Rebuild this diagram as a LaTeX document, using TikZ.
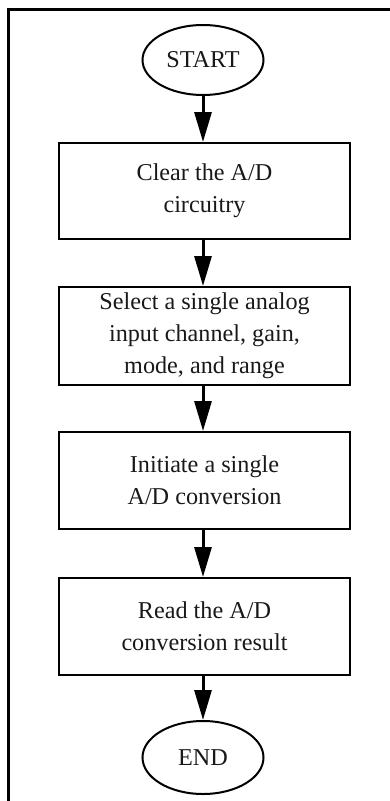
\documentclass[tikz,border=0pt]{standalone}
\usepackage{fontspec}
\setmainfont{Liberation Serif}
\usetikzlibrary{arrows.meta,shapes.geometric}
\begin{document}
\begin{tikzpicture}[x=1pt,y=-1pt,
  stepbox/.style={draw=black,line width=2pt,rectangle,minimum width=291pt,inner sep=0pt,align=center,text=black!90,font=\fontsize{24.2}{32}\selectfont},
  term/.style={draw=black,line width=2pt,ellipse,inner sep=0pt,text=black!90,font=\fontsize{24.2}{32}\selectfont},
  flow/.style={line width=3pt,-{Triangle[length=30pt,width=17pt]}}
]
\useasboundingbox (0,0) rectangle (390,801);
\draw[line width=3pt] (8.5,801) -- (8.5,9.5) -- (390,9.5);
\node[term,minimum width=121pt,minimum height=70pt] (start) at (203,60) {START};
\node[stepbox,minimum height=96pt] (b1) at (204.5,191) {Clear the A/D\\circuitry};
\node[stepbox,minimum height=98pt] (b2) at (204.5,336) {Select a single analog\\input channel, gain,\\mode, and range};
\node[stepbox,minimum height=97pt] (b3) at (204.5,480.5) {Initiate a single\\A/D conversion};
\node[stepbox,minimum height=97pt] (b4) at (204.5,626.5) {Read the A/D\\conversion result};
\node[term,minimum width=121pt,minimum height=73pt] (end) at (203,757.5) {END};
\draw[flow] (start.south) -- (start.south |- b1.north);
\draw[flow] (b1.south -| start.south) -- (b2.north -| start.south);
\draw[flow] (b2.south -| start.south) -- (b3.north -| start.south);
\draw[flow] (b3.south -| start.south) -- (b4.north -| start.south);
\draw[flow] (b4.south -| start.south) -- (end.north);
\end{tikzpicture}
\end{document}
